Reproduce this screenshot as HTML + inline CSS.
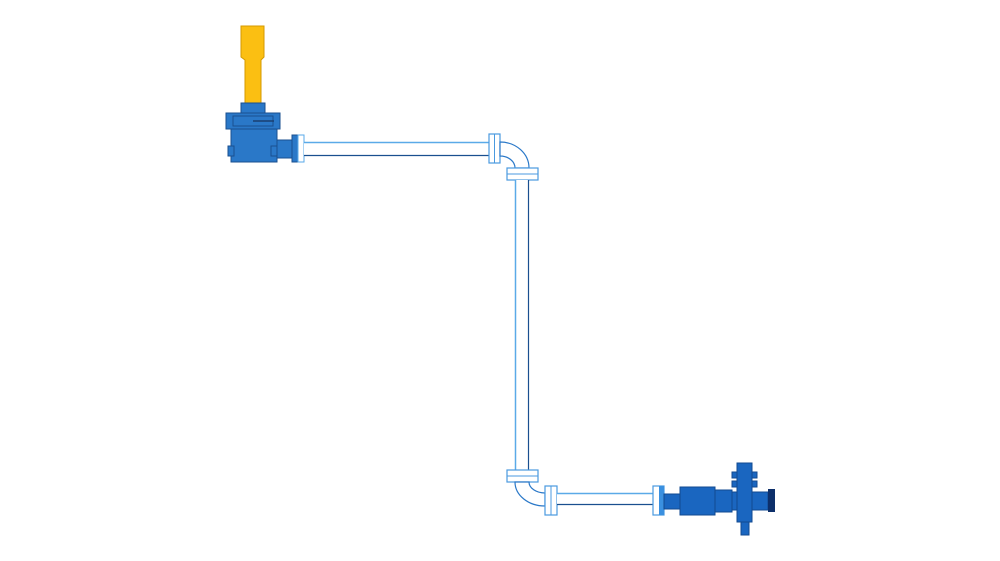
<!DOCTYPE html>
<html><head><style>html,body{margin:0;padding:0;background:#fff;width:1000px;height:561px;overflow:hidden}</style></head>
<body>
<svg width="1000" height="561" viewBox="0 0 1000 561" xmlns="http://www.w3.org/2000/svg">
<!-- top motor -->
<path d="M241 26 H264 V57 L261 60 V103 H245 V60 L241 57 Z" fill="#fbbf12" stroke="#d49a00" stroke-width="1"/>
<rect x="241" y="103" width="24" height="10" fill="#2a78c8" stroke="#1a4f8f"/>
<rect x="226" y="113" width="54" height="16" fill="#2a78c8" stroke="#1a4f8f"/>
<rect x="233" y="116" width="40" height="10" fill="none" stroke="#1a4f8f"/>
<line x1="253" y1="121" x2="274" y2="121" stroke="#1a3f70" stroke-width="1.5"/>
<rect x="231" y="129" width="46" height="33" fill="#2a78c8" stroke="#1a4f8f"/>
<rect x="228" y="146" width="6" height="10" fill="#2a78c8" stroke="#1a4f8f"/>
<rect x="271" y="146" width="6" height="10" fill="#2a78c8" stroke="#1a4f8f"/>
<rect x="277" y="140" width="15" height="18" fill="#2a78c8" stroke="#1a4f8f"/>
<rect x="292" y="135" width="6" height="27" fill="#2a78c8" stroke="#1a4f8f"/>
<rect x="298" y="135" width="6" height="27" fill="#fff" stroke="#5aaae8"/>
<!-- top pipe -->
<rect x="304" y="142" width="186" height="14" fill="#fff"/>
<line x1="304" y1="142.5" x2="490" y2="142.5" stroke="#5aaae8" stroke-width="1.5"/>
<line x1="304" y1="155.5" x2="490" y2="155.5" stroke="#1a4f8f" stroke-width="1.2"/>
<rect x="489" y="134" width="11" height="29" fill="#fff" stroke="#4a9ae0" stroke-width="1.2"/>
<line x1="494.5" y1="134" x2="494.5" y2="163" stroke="#4a9ae0"/>
<!-- elbow 1 -->
<path d="M500 142 A29 26 0 0 1 529 168 H515 A15 12 0 0 0 500 156 Z" fill="#fff" stroke="#2a78c8" stroke-width="1.2"/>
<rect x="507" y="168" width="31" height="12" fill="#fff" stroke="#4a9ae0" stroke-width="1.2"/>
<line x1="507" y1="174" x2="538" y2="174" stroke="#4a9ae0"/>
<!-- vertical pipe -->
<rect x="515" y="180" width="14" height="290" fill="#fff"/>
<line x1="515.5" y1="180" x2="515.5" y2="470" stroke="#5aaae8" stroke-width="1.5"/>
<line x1="528.5" y1="180" x2="528.5" y2="470" stroke="#1a4f8f" stroke-width="1.2"/>
<rect x="507" y="470" width="31" height="12" fill="#fff" stroke="#4a9ae0" stroke-width="1.2"/>
<line x1="507" y1="476" x2="538" y2="476" stroke="#4a9ae0"/>
<!-- elbow 2 -->
<path d="M515 482 A30 24 0 0 0 545 506 V493 A16 11 0 0 1 529 482 Z" fill="#fff" stroke="#2a78c8" stroke-width="1.2"/>
<rect x="545" y="486" width="12" height="29" fill="#fff" stroke="#4a9ae0" stroke-width="1.2"/>
<line x1="551" y1="486" x2="551" y2="515" stroke="#4a9ae0"/>
<rect x="557" y="493" width="96" height="12" fill="#fff"/>
<line x1="557" y1="493.5" x2="653" y2="493.5" stroke="#5aaae8" stroke-width="1.5"/>
<line x1="557" y1="504.5" x2="653" y2="504.5" stroke="#1a4f8f" stroke-width="1.2"/>
<rect x="653" y="486" width="11" height="29" fill="#fff" stroke="#4a9ae0" stroke-width="1.2"/>
<rect x="659" y="486" width="5" height="29" fill="#3a90e0"/>
<!-- pump -->
<rect x="664" y="494" width="16" height="15" fill="#1a66c0" stroke="#124a90"/>
<rect x="680" y="487" width="35" height="28" fill="#1a66c0" stroke="#124a90"/>
<rect x="715" y="490" width="17" height="22" fill="#1a66c0" stroke="#124a90"/>
<rect x="732" y="492" width="36" height="18" fill="#1a66c0" stroke="#124a90"/>
<rect x="732" y="472" width="25" height="6" fill="#1a66c0" stroke="#124a90"/>
<rect x="732" y="481" width="25" height="6" fill="#1a66c0" stroke="#124a90"/>
<rect x="737" y="463" width="15" height="59" fill="#1a66c0" stroke="#124a90"/>
<rect x="741" y="522" width="8" height="13" fill="#1a66c0" stroke="#124a90"/>
<rect x="768" y="489" width="7" height="23" fill="#0d2f6a"/>
</svg>
</body></html>
